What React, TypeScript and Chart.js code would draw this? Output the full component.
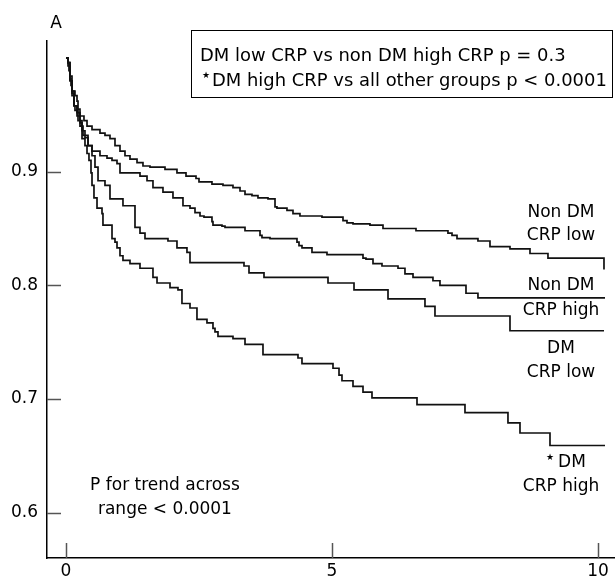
import React, { useEffect, useRef } from "react";
import { Chart, registerables } from "chart.js";

Chart.register(...registerables);

// Kaplan–Meier step data (time in years, cumulative survival)
const nonDmLowT = [0, 0.038, 0.056, 0.075, 0.094, 0.113, 0.169, 0.207, 0.226, 0.263, 0.338, 0.395, 0.489, 0.639, 0.733, 0.827, 0.921, 1.015, 1.109, 1.203, 1.335, 1.447, 1.579, 1.861, 2.086, 2.256, 2.444, 2.5, 2.744, 2.951, 3.139, 3.271, 3.365, 3.496, 3.609, 3.797, 3.929, 3.966, 4.154, 4.267, 4.398, 4.812, 5.207, 5.282, 5.395, 5.714, 5.959, 6.579, 7.18, 7.256, 7.35, 7.744, 7.97, 8.346, 8.722, 9.06, 10.113];
const nonDmLowS = [1.0, 0.996, 0.989, 0.982, 0.976, 0.971, 0.967, 0.962, 0.955, 0.949, 0.945, 0.94, 0.937, 0.934, 0.932, 0.929, 0.923, 0.918, 0.914, 0.911, 0.908, 0.905, 0.904, 0.902, 0.899, 0.896, 0.894, 0.891, 0.889, 0.888, 0.886, 0.883, 0.88, 0.879, 0.877, 0.876, 0.869, 0.868, 0.866, 0.863, 0.861, 0.86, 0.857, 0.855, 0.854, 0.853, 0.85, 0.848, 0.846, 0.844, 0.841, 0.839, 0.834, 0.832, 0.828, 0.824, 0.814];

const nonDmHighT = [0, 0.038, 0.075, 0.113, 0.15, 0.207, 0.263, 0.32, 0.414, 0.489, 0.639, 0.771, 0.865, 0.959, 1.015, 1.391, 1.523, 1.635, 1.823, 2.011, 2.199, 2.331, 2.425, 2.519, 2.594, 2.744, 2.763, 2.932, 2.989, 3.365, 3.647, 3.684, 3.835, 4.342, 4.38, 4.436, 4.624, 4.906, 5.583, 5.639, 5.771, 5.94, 6.241, 6.372, 6.523, 6.898, 7.03, 7.519, 7.744, 10.132];
const nonDmHighS = [1.0, 0.993, 0.98, 0.969, 0.958, 0.949, 0.94, 0.932, 0.923, 0.918, 0.914, 0.912, 0.91, 0.907, 0.899, 0.896, 0.892, 0.886, 0.882, 0.877, 0.87, 0.868, 0.864, 0.861, 0.86, 0.856, 0.853, 0.852, 0.851, 0.848, 0.844, 0.842, 0.841, 0.838, 0.835, 0.833, 0.829, 0.827, 0.824, 0.823, 0.819, 0.817, 0.815, 0.81, 0.807, 0.804, 0.8, 0.793, 0.789, 0.789];

const dmLowT = [0, 0.038, 0.075, 0.113, 0.15, 0.207, 0.263, 0.301, 0.357, 0.414, 0.489, 0.545, 0.602, 0.733, 0.827, 1.071, 1.297, 1.391, 1.485, 1.917, 2.086, 2.274, 2.331, 3.346, 3.44, 3.722, 4.925, 5.414, 6.053, 6.748, 6.936, 8.346, 10.113];
const dmLowS = [1.0, 0.996, 0.984, 0.971, 0.958, 0.952, 0.943, 0.936, 0.93, 0.923, 0.914, 0.904, 0.892, 0.888, 0.876, 0.87, 0.851, 0.846, 0.841, 0.839, 0.833, 0.829, 0.82, 0.817, 0.811, 0.807, 0.802, 0.796, 0.788, 0.7815, 0.773, 0.76, 0.76];

const dmHighT = [0, 0.038, 0.075, 0.113, 0.15, 0.169, 0.226, 0.301, 0.357, 0.395, 0.432, 0.47, 0.489, 0.526, 0.583, 0.677, 0.695, 0.865, 0.921, 0.959, 1.015, 1.071, 1.203, 1.391, 1.635, 1.711, 1.955, 2.105, 2.18, 2.331, 2.462, 2.65, 2.763, 2.801, 2.857, 3.139, 3.365, 3.703, 4.361, 4.436, 5.019, 5.132, 5.188, 5.395, 5.583, 5.752, 6.598, 7.5, 8.308, 8.534, 9.098, 10.132];
const dmHighS = [1.0, 0.996, 0.98, 0.967, 0.958, 0.954, 0.945, 0.929, 0.923, 0.916, 0.91, 0.899, 0.888, 0.877, 0.868, 0.863, 0.853, 0.841, 0.838, 0.833, 0.826, 0.822, 0.819, 0.815, 0.807, 0.802, 0.798, 0.796, 0.784, 0.78, 0.77, 0.767, 0.762, 0.759, 0.755, 0.753, 0.748, 0.739, 0.736, 0.731, 0.727, 0.721, 0.716, 0.711, 0.706, 0.701, 0.695, 0.688, 0.679, 0.67, 0.659, 0.659];

const xTicks = [0, 5, 10];
const yTicks = [0.6, 0.7, 0.8, 0.9];

const panelLabel = "A";
const boxLines = ["DM low CRP vs non DM high CRP p = 0.3", "DM high CRP vs all other groups p < 0.0001"];
const starGlyph = "★";
// group labels: lines, centre x value, y values of each line
const groupLabels = [
  { lines: ["Non DM", "CRP low"], x: 9.305, y: [0.864, 0.8438], star: false },
  { lines: ["Non DM", "CRP high"], x: 9.305, y: [0.8, 0.778], star: false },
  { lines: ["DM", "CRP low"], x: 9.305, y: [0.7446, 0.7235], star: false },
  { lines: ["DM", "CRP high"], x: 9.305, y: [0.6436, 0.6226], star: true },
];
const trendLines = ["P for trend across", "range < 0.0001"];
const trendPos = { x: 1.86, y: [0.6234, 0.6024] };

const FONT = "'DejaVu Sans'";
const FS = 17;

function toXY(t: number[], s: number[]) {
  return t.map((v, i) => ({ x: v, y: s[i] }));
}

const annotations = {
  id: "annotations",
  afterDraw(chart: any) {
    const ctx = chart.ctx as CanvasRenderingContext2D;
    const xs = chart.scales.x;
    const ys = chart.scales.y;
    const area = chart.chartArea;
    ctx.save();
    // inward tick marks
    ctx.strokeStyle = "#555";
    ctx.lineWidth = 1.5;
    yTicks.forEach((v) => {
      const py = Math.round(ys.getPixelForValue(v)) + 0.5;
      ctx.beginPath();
      ctx.moveTo(area.left, py);
      ctx.lineTo(area.left + 14, py);
      ctx.stroke();
    });
    xTicks.forEach((v) => {
      const px = Math.round(xs.getPixelForValue(v)) + 0.5;
      ctx.beginPath();
      ctx.moveTo(px, area.bottom);
      ctx.lineTo(px, area.bottom - 15);
      ctx.stroke();
    });

    ctx.fillStyle = "#000";
    ctx.textBaseline = "middle";
    ctx.font = `${FS}px ${FONT}`;
    // panel label
    ctx.textAlign = "center";
    ctx.fillText(panelLabel, area.left + 9, area.top - 17);

    // text box
    const bx = 191, by = 30, bw = 421, bh = 67;
    ctx.strokeStyle = "#000";
    ctx.lineWidth = 1;
    ctx.strokeRect(bx + 0.5, by + 0.5, bw, bh);
    ctx.textAlign = "left";
    // fit second line into the box
    ctx.font = `100px ${FONT}`;
    const w2 = ctx.measureText(boxLines[1]).width;
    const bfs = Math.min(19, (395 / w2) * 100);
    ctx.font = `${bfs}px ${FONT}`;
    ctx.fillText(boxLines[0], bx + 9, by + 26);
    ctx.fillText(boxLines[1], bx + 21, by + 51);
    ctx.font = `9px ${FONT}`;
    ctx.fillText(starGlyph, bx + 11, by + 46);

    // group labels
    ctx.font = `${FS}px ${FONT}`;
    ctx.textAlign = "center";
    groupLabels.forEach((g) => {
      const px = xs.getPixelForValue(g.x);
      g.lines.forEach((ln, i) => {
        const py = ys.getPixelForValue(g.y[i]);
        if (g.star && i === 0) {
          const w = ctx.measureText(ln).width;
          ctx.fillText(ln, px + 11, py);
          ctx.font = `9px ${FONT}`;
          ctx.fillText(starGlyph, px + 11 - w / 2 - 8, py - 5);
          ctx.font = `${FS}px ${FONT}`;
        } else {
          ctx.fillText(ln, px, py);
        }
      });
    });
    // trend label
    trendLines.forEach((ln, i) => {
      ctx.fillText(ln, xs.getPixelForValue(trendPos.x), ys.getPixelForValue(trendPos.y[i]));
    });
    ctx.restore();
  },
};

export default function App() {
  const ref = useRef<HTMLCanvasElement | null>(null);
  useEffect(() => {
    if (!ref.current) return;
    const mk = (t: number[], s: number[]) => ({
      data: toXY(t, s),
      borderColor: "#111",
      borderWidth: 1.7,
      pointRadius: 0,
      stepped: "before" as const,
      fill: false,
    });
    const chart = new Chart(ref.current, {
      type: "line",
      data: {
        datasets: [mk(nonDmLowT, nonDmLowS), mk(nonDmHighT, nonDmHighS), mk(dmLowT, dmLowS), mk(dmHighT, dmHighS)],
      },
      options: {
        animation: false,
        responsive: false,
        maintainAspectRatio: false,
        events: [],
        layout: { padding: { top: 41, right: 0, left: 0, bottom: 0 } },
        plugins: { legend: { display: false }, tooltip: { enabled: false } },
        scales: {
          x: {
            type: "linear",
            min: -0.357,
            max: 10.32,
            afterFit: (s: any) => { s.height = 22; },
            afterBuildTicks: (s: any) => { s.ticks = xTicks.map((v) => ({ value: v })); },
            grid: { display: false, drawTicks: false },
            border: { display: true, color: "#000", width: 1.5 },
            ticks: { padding: 3, color: "#000", font: { family: FONT, size: FS }, maxRotation: 0, callback: (v: any) => String(v) },
          },
          y: {
            type: "linear",
            min: 0.56,
            max: 1.015,
            afterFit: (s: any) => { s.width = 47; },
            afterBuildTicks: (s: any) => { s.ticks = yTicks.map((v) => ({ value: v })); },
            grid: { display: false, drawTicks: false },
            border: { display: true, color: "#000", width: 1.5 },
            ticks: { padding: 9, color: "#000", font: { family: FONT, size: FS }, callback: (v: any) => Number(v).toFixed(1) },
          },
        },
      },
      plugins: [annotations],
    });
    return () => chart.destroy();
  }, []);
  return (
    <div style={{ position: "fixed", left: 0, top: 0, width: 615, height: 580, background: "#fff" }}>
      <canvas ref={ref} width={615} height={580} style={{ width: 615, height: 580 }} />
    </div>
  );
}
